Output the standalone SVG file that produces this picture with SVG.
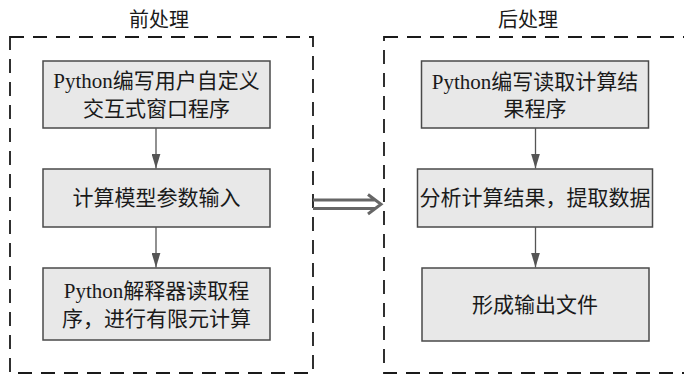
<svg xmlns="http://www.w3.org/2000/svg" width="684" height="375" viewBox="0 0 684 375">
<defs>
<style>
.grp{fill:none;stroke:#1a1a1a;stroke-width:1.8;stroke-dasharray:14 9}
.box{fill:#e8e8e8;stroke:#4a4a4a;stroke-width:1.5}
.t{font-family:"Liberation Serif","Noto Sans CJK SC",serif;font-size:21px;fill:#1a1a1a;text-anchor:middle}
.ttl{font-family:"Liberation Serif","Noto Sans CJK SC",serif;font-size:20px;fill:#1a1a1a;text-anchor:middle}
.ln{stroke:#555;stroke-width:1.3;fill:none}
.big{stroke:#666;stroke-width:3;fill:none}
</style>
<marker id="ah" markerWidth="15" markerHeight="9" refX="15" refY="4.5" orient="auto" markerUnits="userSpaceOnUse" viewBox="0 0 15 9">
<path d="M0,0 L15,4.5 L0,9 Z" fill="#555"/>
</marker>
</defs>
<rect width="684" height="375" fill="#fff"/>
<g id="pre">
<rect class="grp" x="10" y="37" width="303" height="336"/>
<text class="ttl" x="159" y="27">前处理</text>
</g>
<g id="post">
<rect class="grp" x="384" y="37" width="310" height="336"/>
<text class="ttl" x="528" y="27">后处理</text>
</g>
<g id="n1">
<rect class="box" x="43" y="61" width="227" height="67"/>
<text class="t" x="156.5" y="88">Python编写用户自定义</text>
<text class="t" x="156.5" y="116">交互式窗口程序</text>
</g>
<g id="n2">
<rect class="box" x="43" y="169" width="227" height="58"/>
<text class="t" x="156.5" y="205">计算模型参数输入</text>
</g>
<g id="n3">
<rect class="box" x="43" y="268" width="227" height="72"/>
<text class="t" x="156.5" y="298">Python解释器读取程</text>
<text class="t" x="156.5" y="326">序，进行有限元计算</text>
</g>
<g id="n4">
<rect class="box" x="421.5" y="61" width="227" height="67"/>
<text class="t" x="535" y="89">Python编写读取计算结</text>
<text class="t" x="535" y="116">果程序</text>
</g>
<g id="n5">
<rect class="box" x="417.5" y="169" width="235" height="58"/>
<text class="t" x="535" y="205">分析计算结果，提取数据</text>
</g>
<g id="n6">
<rect class="box" x="422" y="268" width="227" height="73"/>
<text class="t" x="535" y="312">形成输出文件</text>
</g>
<g id="connectors">
<line class="ln" x1="156" y1="128" x2="156" y2="168.5" marker-end="url(#ah)"/>
<line class="ln" x1="156" y1="227" x2="156" y2="267.5" marker-end="url(#ah)"/>
<line class="ln" x1="535.5" y1="128" x2="535.5" y2="168.5" marker-end="url(#ah)"/>
<line class="ln" x1="535.5" y1="227" x2="535.5" y2="267.5" marker-end="url(#ah)"/>
<path class="big" d="M313,200 H376 M313,208.5 H376 M368,194.5 L381,204.25 L368,214"/>
</g>
</svg>
